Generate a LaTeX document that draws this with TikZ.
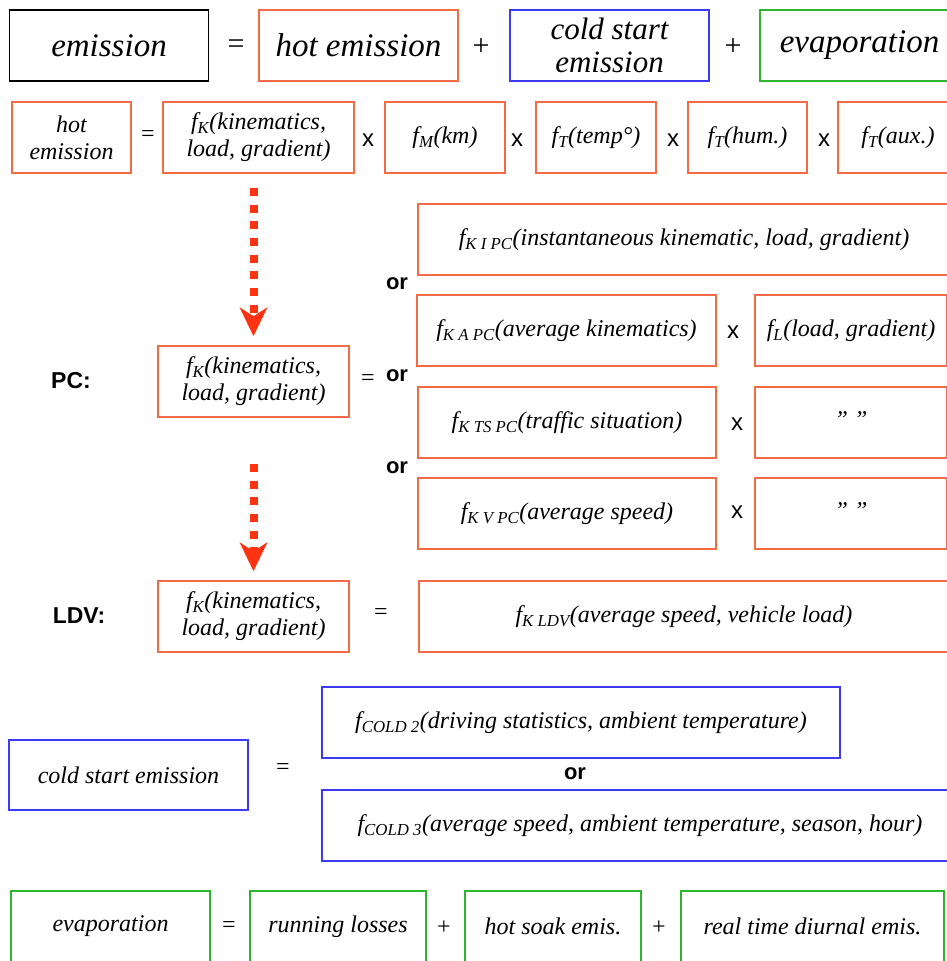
\documentclass[tikz,border=0pt]{standalone}
\usepackage{fontspec}
\setmainfont{Liberation Serif}
\setsansfont{Liberation Sans}
\usetikzlibrary{arrows.meta}
\definecolor{oC}{HTML}{F26B45}
\definecolor{bC}{HTML}{3B3BF5}
\definecolor{gC}{HTML}{2DB52D}
\definecolor{aC}{HTML}{FF3311}
\newcommand{\fsub}[1]{f\textsubscript{#1}}
\tikzset{
  box/.style={draw, line width=1.6pt, rectangle, inner sep=0pt, align=center,
     font=\fontsize{24}{27}\selectfont\itshape},
  bigbox/.style={box, minimum width=199pt, minimum height=71pt,
     font=\fontsize{33}{33}\selectfont\itshape},
  obox/.style={box, draw=oC},
  bbox/.style={box, draw=bC},
  gbox/.style={box, draw=gC},
  op/.style={inner sep=0pt, font=\fontsize{24}{24}\selectfont},
  xop/.style={inner sep=0pt, font=\fontsize{24}{24}\selectfont\sffamily},
  orl/.style={inner sep=0pt, font=\fontsize{22}{22}\selectfont\sffamily\bfseries},
  lbl/.style={inner sep=0pt, font=\fontsize{23}{23}\selectfont\sffamily\bfseries},
  darrow/.style={draw=aC, line width=8pt, dash pattern=on 8pt off 8.7pt,
     -{Stealth[length=29pt, width=28pt, inset=9pt, fill=aC, line width=0pt]}}
}
\begin{document}
\begin{tikzpicture}[x=1pt, y=-1pt]
\useasboundingbox (0,0) rectangle (947,961);
\clip (0,0) rectangle (947,961);
% Row 1
\node[bigbox, draw=black] (em) at (109,45.5) {emission};
\node[op, font=\fontsize{30}{30}\selectfont] (eq1) at (236,47) {=};
\node[bigbox, draw=oC] (hot) at (358.5,45.5) {hot emission};
\node[op, font=\fontsize{30}{30}\selectfont] (p1) at (481,47) {+};
\node[bigbox, draw=bC, align=center, font=\fontsize{31}{33}\selectfont\itshape] (cold) at (609.5,45.5) {cold start\\emission};
\node[op, font=\fontsize{30}{30}\selectfont] (p2) at (733,47) {+};
\node[bigbox, draw=gC] (evap) at (859.5,45.5) {evaporation};
% Row 2
\node[obox, minimum width=119pt, minimum height=71pt] (hot2) at (71.5,137.5) {hot\\emission};
\node[op] (eq2) at (148,136) {=};
\node[obox, minimum width=191pt, minimum height=71pt] (kin1) at (258.5,137.5) {\fsub{K}(kinematics,\\load, gradient)};
\node[xop] (x1) at (368,140) {x};
\node[obox, minimum width=120pt, minimum height=71pt] (fm) at (445,137.5) {\fsub{M}(km)};
\node[xop] (x2) at (517,140) {x};
\node[obox, minimum width=120pt, minimum height=71pt] (ft1) at (596,137.5) {\fsub{T}(temp°)};
\node[xop] (x3) at (673,140) {x};
\node[obox, minimum width=119pt, minimum height=71pt] (ft2) at (747.5,137.5) {\fsub{T}(hum.)};
\node[xop] (x4) at (824,140) {x};
\node[obox, minimum width=120pt, minimum height=71pt] (ft3) at (898,137.5) {\fsub{T}(aux.)};
% PC
\node[lbl] (pc) at (71,381) {PC:};
\node[obox, minimum width=191pt, minimum height=71pt] (pcK) at (253.5,381.5) {\fsub{K}(kinematics,\\load, gradient)};
\node[op] (eq3) at (368,380) {=};
\node[orl] (or1) at (397,284) {or};
\node[orl] (or2) at (397,376) {or};
\node[orl] (or3) at (397,468) {or};
\node[obox, minimum width=532pt, minimum height=71pt] (kipc) at (684,239.5) {\fsub{K I PC}(instantaneous kinematic, load, gradient)};
\node[obox, minimum width=299pt, minimum height=71pt] (kapc) at (566.5,330.5) {\fsub{K A PC}(average kinematics)};
\node[xop] (x5) at (733,332) {x};
\node[obox, minimum width=192pt, minimum height=71pt] (fl) at (851,330.5) {\fsub{L}(load, gradient)};
\node[obox, minimum width=298pt, minimum height=71pt] (ktspc) at (567,422.5) {\fsub{K TS PC}(traffic situation)};
\node[xop] (x6) at (737,424) {x};
\node[obox, minimum width=192pt, minimum height=71pt] (q1) at (851,422.5) {\strut” ”};
\node[obox, minimum width=298pt, minimum height=71pt] (kvpc) at (567,513.5) {\fsub{K V PC}(average speed)};
\node[xop] (x7) at (737,512) {x};
\node[obox, minimum width=192pt, minimum height=71pt] (q2) at (851,513.5) {\strut” ”};
% LDV
\node[lbl] (ldv) at (79,616) {LDV:};
\node[obox, minimum width=191pt, minimum height=71pt] (ldvK) at (253.5,616.5) {\fsub{K}(kinematics,\\load, gradient)};
\node[op] (eq4) at (381,614) {=};
\node[obox, minimum width=530pt, minimum height=71pt] (kldv) at (684,616.5) {\fsub{K LDV}(average speed, vehicle load)};
% arrows
\draw[darrow, shorten <=14pt, shorten >=9pt] (kin1.south -| pcK.north) -- (pcK.north);
\draw[darrow, shorten <=46pt, shorten >=9pt] (pcK.south) -- (ldvK.north);
% Cold start
\node[bbox, minimum width=239pt, minimum height=70pt] (coldL) at (128.5,775) {cold start emission};
\node[op] (eq5) at (283,769) {=};
\node[bbox, minimum width=518pt, minimum height=71pt] (cold2) at (581,722.5) {\fsub{COLD 2}(driving statistics, ambient temperature)};
\node[orl] (or4) at (575,774) {or};
\node[bbox, minimum width=636pt, minimum height=71pt] (cold3) at (640,825.5) {\fsub{COLD 3}(average speed, ambient temperature, season, hour)};
% Evaporation
\node[gbox, minimum width=199pt, minimum height=71pt] (evL) at (110.5,926.5) {evaporation};
\node[op] (eq6) at (229,927) {=};
\node[gbox, minimum width=176pt, minimum height=71pt] (run) at (338,926.5) {running losses};
\node[op] (p3) at (444,928) {+};
\node[gbox, minimum width=176pt, minimum height=71pt] (soak) at (553,926.5) {hot soak emis.};
\node[op] (p4) at (659,928) {+};
\node[gbox, minimum width=263pt, minimum height=71pt] (diur) at (812.5,926.5) {real time diurnal emis.};
\end{tikzpicture}
\end{document}
